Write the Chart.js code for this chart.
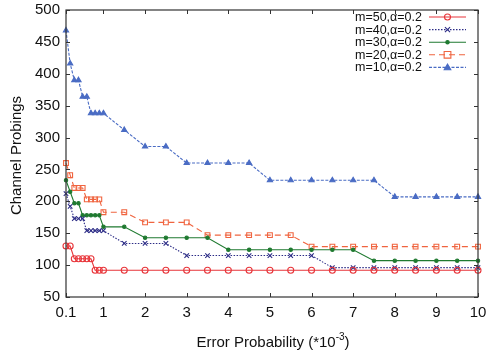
<!DOCTYPE html>
<html>
<head>
<meta charset="utf-8">
<script src="https://cdn.jsdelivr.net/npm/chart.js@4/dist/chart.umd.min.js"></script>
<style>
html,body{margin:0;padding:0;background:#fff;}
canvas{display:block;}
</style>
</head>
<body>
<canvas id="c" width="490" height="356"></canvas>
<script>
// ---- data ----
const errorProb = [0.1,0.2,0.3,0.4,0.5,0.6,0.7,0.8,0.9,1.0,1.5,2,2.5,3,3.5,4,4.5,5,5.5,6,6.5,7,7.5,8,8.5,9,9.5,10];
const m50 = [130,130,110,110,110,110,110,92,92,92,92,92,92,92,92,92,92,92,92,92,92,92,92,92,92,92,92,92];
const m40 = [212,192,173,173,173,154,154,154,154,154,134,134,134,115,115,115,115,115,115,115,96,96,96,96,96,96,96,96];
const m30 = [233,215,197,197,178,178,178,178,178,160,160,143,143,143,143,124,124,124,124,124,124,124,107,107,107,107,107,107];
const m20 = [260,241,221,221,221,203,203,203,203,183,183,167,167,167,147,147,147,147,147,129,129,129,129,129,129,129,129,129];
const m10 = [468,416,390,390,364,364,338,338,338,338,312,286,286,260,260,260,260,233,233,233,233,233,233,207,207,207,207,207];
const seriesLabels = ['m=50,\u03b1=0.2','m=40,\u03b1=0.2','m=30,\u03b1=0.2','m=20,\u03b1=0.2','m=10,\u03b1=0.2'];
const xTickValues = [0.1,1,2,3,4,5,6,7,8,9,10];
const xTickLabels = ['0.1','1','2','3','4','5','6','7','8','9','10'];
const yTickValues = [50,100,150,200,250,300,350,400,450,500];
const xTitle = 'Error Probability (*10';
const xTitleSup = '-3';
const yTitle = 'Channel Probings';

const FONT = '"Liberation Sans", Arial, Helvetica, sans-serif';

function pts(vals){ return vals.map((v,i)=>({x:errorProb[i], y:v})); }

const styles = [
  {color:'#e8353a', dash:[], point:'circle', radius:3, fill:'rgba(255,255,255,0)'},
  {color:'#2c2c86', dash:[1.5,1.5], point:'crossRot', radius:3.2, fill:'#2c2c86'},
  {color:'#1f7a30', dash:[], point:'circle', radius:1.7, fill:'#1f7a30'},
  {color:'#f0643f', dash:[6,4], point:'rect', radius:3.4, fill:'rgba(255,255,255,0)'},
  {color:'#4a6cc4', dash:[3,1.5], point:'triangle', radius:3, fill:'#4a6cc4'}
];
const seriesData = [m50,m40,m30,m20,m10];

const datasets = seriesData.map((vals,i)=>({
  label: seriesLabels[i],
  data: pts(vals),
  borderColor: styles[i].color,
  backgroundColor: styles[i].fill,
  borderWidth: 1.1,
  borderDash: styles[i].dash,
  pointStyle: styles[i].point,
  pointRadius: styles[i].radius,
  pointBorderColor: styles[i].color,
  pointBackgroundColor: styles[i].fill,
  pointBorderWidth: 1.1,
  tension: 0,
  fill: false,
  clip: false
}));

function drawMarker(ctx, style, x, y, r, color, fill){
  ctx.save();
  ctx.setLineDash([]);
  ctx.strokeStyle = color; ctx.fillStyle = fill; ctx.lineWidth = 1.1;
  ctx.beginPath();
  if(style==='circle'){ ctx.arc(x,y,r,0,Math.PI*2); ctx.fill(); ctx.stroke(); }
  else if(style==='rect'){ const s=r/Math.SQRT2*1.4; ctx.rect(x-s,y-s,2*s,2*s); ctx.fill(); ctx.stroke(); }
  else if(style==='triangle'){ ctx.moveTo(x,y-r*1.1); ctx.lineTo(x+r*1.1,y+r*0.8); ctx.lineTo(x-r*1.1,y+r*0.8); ctx.closePath(); ctx.fill(); ctx.stroke(); }
  else if(style==='crossRot'){ const s=r*0.8; ctx.moveTo(x-s,y-s); ctx.lineTo(x+s,y+s); ctx.moveTo(x+s,y-s); ctx.lineTo(x-s,y+s); ctx.stroke(); }
  ctx.restore();
}

const framePlugin = {
  id:'frame',
  afterDraw(chart){
    const ctx = chart.ctx, a = chart.chartArea;
    const xs = chart.scales.x, ys = chart.scales.y;
    ctx.save();
    ctx.strokeStyle = '#333'; ctx.lineWidth = 1.2; ctx.setLineDash([]);
    ctx.strokeRect(a.left, a.top, a.right-a.left, a.bottom-a.top);
    ctx.lineWidth = 1;
    const tl = 4;
    ctx.beginPath();
    xTickValues.forEach(v=>{
      const px = Math.round(xs.getPixelForValue(v))+0.5;
      ctx.moveTo(px,a.bottom); ctx.lineTo(px,a.bottom-tl);
      ctx.moveTo(px,a.top); ctx.lineTo(px,a.top+tl);
    });
    yTickValues.forEach(v=>{
      const py = Math.round(ys.getPixelForValue(v))+0.5;
      ctx.moveTo(a.left,py); ctx.lineTo(a.left+tl,py);
      ctx.moveTo(a.right,py); ctx.lineTo(a.right-tl,py);
    });
    ctx.stroke();

    // axis titles
    ctx.fillStyle = '#111';
    ctx.font = '15px ' + FONT;
    ctx.textBaseline = 'alphabetic';
    const w1 = ctx.measureText(xTitle).width;
    ctx.font = '10px ' + FONT;
    const w2 = ctx.measureText(xTitleSup).width;
    ctx.font = '15px ' + FONT;
    const w3 = ctx.measureText(')').width;
    const cx = (a.left+a.right)/2 + 1;
    let x0 = cx - (w1+w2+w3)/2;
    const by = 347;
    ctx.textAlign='left';
    ctx.fillText(xTitle, x0, by);
    ctx.font = '10px ' + FONT;
    ctx.fillText(xTitleSup, x0+w1, by-7);
    ctx.font = '15px ' + FONT;
    ctx.fillText(')', x0+w1+w2, by);

    ctx.save();
    ctx.translate(21, (a.top+a.bottom)/2 + 2);
    ctx.rotate(-Math.PI/2);
    ctx.textAlign='center';
    ctx.textBaseline='alphabetic';
    ctx.fillText(yTitle, 0, 0);
    ctx.restore();

    // legend
    ctx.font = '12.5px ' + FONT;
    ctx.textAlign = 'right';
    ctx.textBaseline = 'middle';
    chart.data.datasets.forEach((ds,i)=>{
      const y = 17 + i*12.6;
      ctx.fillStyle = '#111';
      ctx.fillText(ds.label, 422, y+0.5);
      ctx.save();
      ctx.strokeStyle = ds.borderColor; ctx.lineWidth = 1.1;
      ctx.setLineDash(ds.borderDash);
      ctx.beginPath(); ctx.moveTo(429,y); ctx.lineTo(466,y); ctx.stroke();
      ctx.restore();
      drawMarker(ctx, ds.pointStyle, 447.5, y, ds.pointRadius, ds.borderColor, ds.pointBackgroundColor);
    });
    ctx.restore();
  }
};

new Chart(document.getElementById('c'), {
  type:'line',
  data:{datasets},
  options:{
    responsive:false,
    animation:false,
    devicePixelRatio:1,
    layout:{padding:{top:10,right:12,left:0,bottom:0}},
    plugins:{legend:{display:false}, tooltip:{enabled:false}},
    scales:{
      x:{
        type:'linear', min:0.1, max:10,
        afterBuildTicks(s){ s.ticks = xTickValues.map(v=>({value:v})); },
        afterFit(s){ s.height = 59; s.paddingLeft = 0; s.paddingRight = 0; },
        grid:{display:false, drawTicks:false},
        border:{display:false},
        ticks:{
          autoSkip:false, maxRotation:0, padding:7, color:'#111',
          font:{family:FONT, size:15},
          callback(v){ const i = xTickValues.indexOf(v); return i>=0 ? xTickLabels[i] : ''; }
        }
      },
      y:{
        type:'linear', min:50, max:500,
        afterBuildTicks(s){ s.ticks = yTickValues.map(v=>({value:v})); },
        afterFit(s){ s.width = 66; s.paddingTop = 0; s.paddingBottom = 0; },
        grid:{display:false, drawTicks:false},
        border:{display:false},
        ticks:{ padding:6, color:'#111', font:{family:FONT, size:15} }
      }
    }
  },
  plugins:[framePlugin]
});
</script>
</body>
</html>
